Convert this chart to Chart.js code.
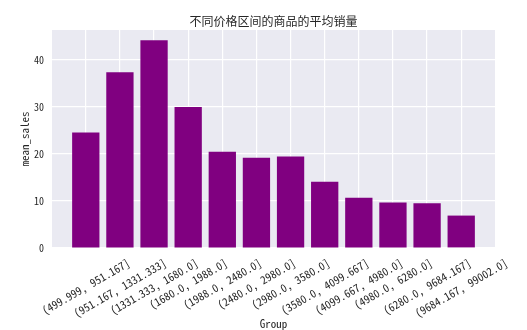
<!DOCTYPE html>
<html>
<head>
<meta charset="utf-8">
<script src="https://cdn.jsdelivr.net/npm/chart.js@4.4.0/dist/chart.umd.min.js"></script>
<style>
  body { margin: 0; background: #fff; }
  #wrap { width: 527px; height: 330px; }
</style>
</head>
<body>
<div id="wrap"><canvas id="salesChart"></canvas></div>
<script>
const groups = [
  '(499.999, 951.167]', '(951.167, 1331.333]', '(1331.333, 1680.0]', '(1680.0, 1988.0]',
  '(1988.0, 2480.0]', '(2480.0, 2980.0]', '(2980.0, 3580.0]', '(3580.0, 4099.667]',
  '(4099.667, 4980.0]', '(4980.0, 6280.0]', '(6280.0, 9684.167]', '(9684.167, 99002.0]'
];
const meanSales = [24.6, 37.4, 44.2, 30.0, 20.5, 19.2, 19.5, 14.1, 10.7, 9.7, 9.5, 6.9];
const yTicks = [0, 10, 20, 30, 40];

const FONT = '"Noto Sans Mono CJK SC", "Noto Sans CJK SC", "DejaVu Sans Mono", monospace';
const TEXT = '#262626';

// plot background + title + rotated, centred tick labels (matplotlib style)
const extras = {
  id: 'extras',
  beforeDraw(chart) {
    const { ctx, chartArea: a } = chart;
    ctx.save();
    ctx.fillStyle = '#EAEAF2';
    ctx.fillRect(a.left, a.top, a.right - a.left, a.bottom - a.top);
    ctx.restore();
  },
  afterDraw(chart) {
    const { ctx, chartArea: a } = chart;
    const x = chart.scales.x;
    ctx.save();
    ctx.fillStyle = TEXT;
    ctx.font = '12px ' + FONT;
    ctx.textAlign = 'center';
    ctx.textBaseline = 'middle';
    ctx.fillText('不同价格区间的商品的平均销量', (a.left + a.right) / 2, 21);

    ctx.font = '11px ' + FONT;
    const ang = Math.PI / 6;
    groups.forEach((g, i) => {
      const w = ctx.measureText(g).width;
      const h = 11;
      const boxH = w * Math.sin(ang) + h * Math.cos(ang);
      const cx = x.getPixelForValue(i);
      const cy = a.bottom + 9 + boxH / 2;
      ctx.save();
      ctx.translate(cx, cy);
      ctx.rotate(-ang);
      ctx.fillText(g, 0, 0);
      ctx.restore();
    });
    ctx.restore();
  }
};

new Chart(document.getElementById('salesChart'), {
  type: 'bar',
  data: {
    datasets: [{
      label: 'mean_sales',
      data: meanSales.map((v, i) => ({ x: i, y: v })),
      backgroundColor: '#800080',
      barPercentage: 0.8,
      categoryPercentage: 1.0
    }]
  },
  plugins: [extras],
  options: {
    responsive: true,
    maintainAspectRatio: false,
    animation: false,
    layout: { padding: { top: 30, right: 32, left: 0, bottom: 0 } },
    plugins: {
      legend: { display: false },
      tooltip: { enabled: false }
    },
    scales: {
      x: {
        type: 'linear',
        offset: false,
        min: -0.99,
        max: 11.99,
        afterBuildTicks: (s) => { s.ticks = groups.map((_, i) => ({ value: i })); },
        afterFit: (s) => { s.height = 82; },
        ticks: { display: false },
        grid: { color: '#ffffff', lineWidth: 1.2, drawTicks: false, offset: false },
        border: { display: false },
        title: {
          display: true,
          text: 'Group',
          color: TEXT,
          font: { family: FONT, size: 11 },
          padding: { top: 0, bottom: 0 }
        }
      },
      y: {
        min: 0,
        max: 46.4,
        afterBuildTicks: (s) => { s.ticks = yTicks.map((v) => ({ value: v })); },
        afterFit: (s) => { s.width = 52; },
        ticks: {
          color: TEXT,
          font: { family: FONT, size: 10 },
          padding: 8
        },
        grid: { color: '#ffffff', lineWidth: 1.2, drawTicks: false },
        border: { display: false },
        title: {
          display: true,
          text: 'mean_sales',
          color: TEXT,
          font: { family: FONT, size: 11 },
          padding: { top: 18, bottom: 0 }
        }
      }
    }
  }
});
</script>
</body>
</html>
